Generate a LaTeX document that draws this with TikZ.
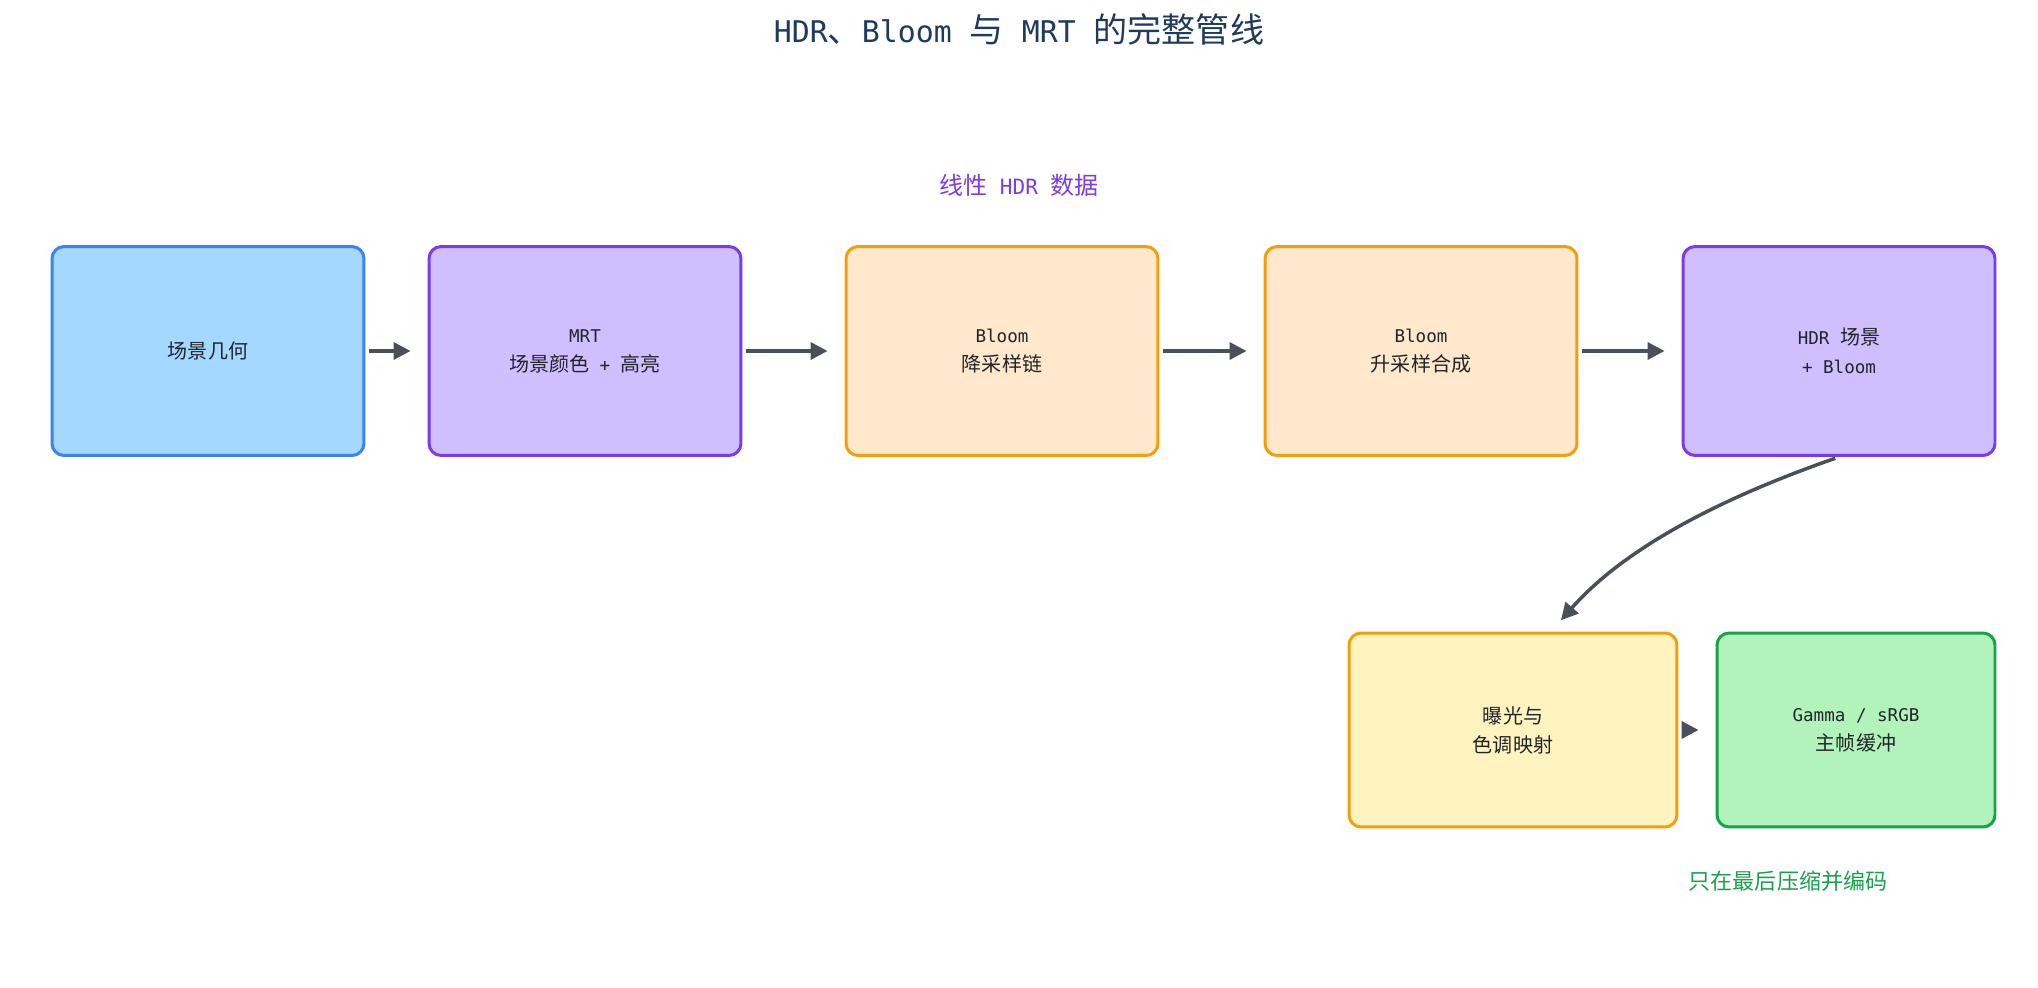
\documentclass[tikz,border=0pt]{standalone}
\usepackage{fontspec}
\setmainfont{DejaVu Sans Mono}
\newfontfamily\cjk[Scale=1.14]{Noto Sans CJK SC}
\usepackage{tikz}
\usetikzlibrary{arrows.meta}
\newcommand{\zh}[1]{{\cjk #1}}

\definecolor{inkgray}{HTML}{495057}
\definecolor{textdark}{HTML}{212529}
\definecolor{titleblue}{HTML}{1E3A5F}
\definecolor{geoline}{HTML}{3B82F6}
\definecolor{geofill}{HTML}{A5D8FF}
\definecolor{hdrline}{HTML}{7C3AED}
\definecolor{hdrfill}{HTML}{D0BFFF}
\definecolor{bloomline}{HTML}{F59E0B}
\definecolor{bloomfill}{HTML}{FFE8CC}
\definecolor{tonefill}{HTML}{FFF3BF}
\definecolor{outline}{HTML}{16A34A}
\definecolor{outfill}{HTML}{B2F2BB}

\begin{document}
\begin{tikzpicture}[x=0.02cm, y=-0.02cm,
		stage/.style={draw, rounded corners=0.24cm, line width=1.7pt, align=center,
			text=textdark, minimum width=6.24cm, minimum height=4.18cm,
			font=\fontsize{10}{16.5}\selectfont},
		flow/.style={-{Triangle[length=0.34cm, width=0.34cm]}, line width=2pt, draw=inkgray,
			shorten <=0.08cm, shorten >=0.34cm}]
			%%%%% START %%%%%
			\useasboundingbox (0, 0) rectangle (2038, 987);
			
			\node[text=titleblue, font=\fontsize{17}{20}\selectfont] (title) at (1019, 29)
				{HDR\zh{、}Bloom \zh{与} MRT \zh{的完整管线}};
			\node[text=hdrline, font=\fontsize{12}{14}\selectfont] (linear) at (1019, 185)
				{\zh{线性} HDR \zh{数据}};
			
			\node[stage, draw=geoline, fill=geofill] (geom) at (208, 351) {\zh{场景几何}};
			\node[stage, draw=hdrline, fill=hdrfill] (mrt) at (585, 351) {MRT\\\zh{场景颜色} + \zh{高亮}};
			\node[stage, draw=bloomline, fill=bloomfill] (down) at (1002, 351) {Bloom\\\zh{降采样链}};
			\node[stage, draw=bloomline, fill=bloomfill] (up) at (1421, 351) {Bloom\\\zh{升采样合成}};
			\node[stage, draw=hdrline, fill=hdrfill] (scene) at (1839, 351) {HDR \zh{场景}\\+ Bloom};
			
			\node[stage, draw=bloomline, fill=tonefill, minimum width=6.56cm, minimum height=3.88cm]
				(tone) at (1513, 730) {\zh{曝光与}\\\zh{色调映射}};
			\node[stage, draw=outline, fill=outfill, minimum width=5.56cm, minimum height=3.88cm]
				(gamma) at (1856, 730) {Gamma / sRGB\\\zh{主帧缓冲}};
			
			\node[text=outline, font=\fontsize{11}{13}\selectfont] (final) at (1788, 881)
				{\zh{只在最后压缩并编码}};
			
			\draw[flow] (geom) -- (mrt);
			\draw[flow] (mrt) -- (down);
			\draw[flow] (down) -- (up);
			\draw[flow] (up) -- (scene);
			\draw[flow, shorten >=0.3cm] (scene.south) .. controls +(-115, 40) and +(75, -85) .. ([xshift=0.76cm]tone.north);
			\draw[flow] (tone) -- (gamma);
			%%%%% END %%%%%
		\end{tikzpicture}
\end{document}
